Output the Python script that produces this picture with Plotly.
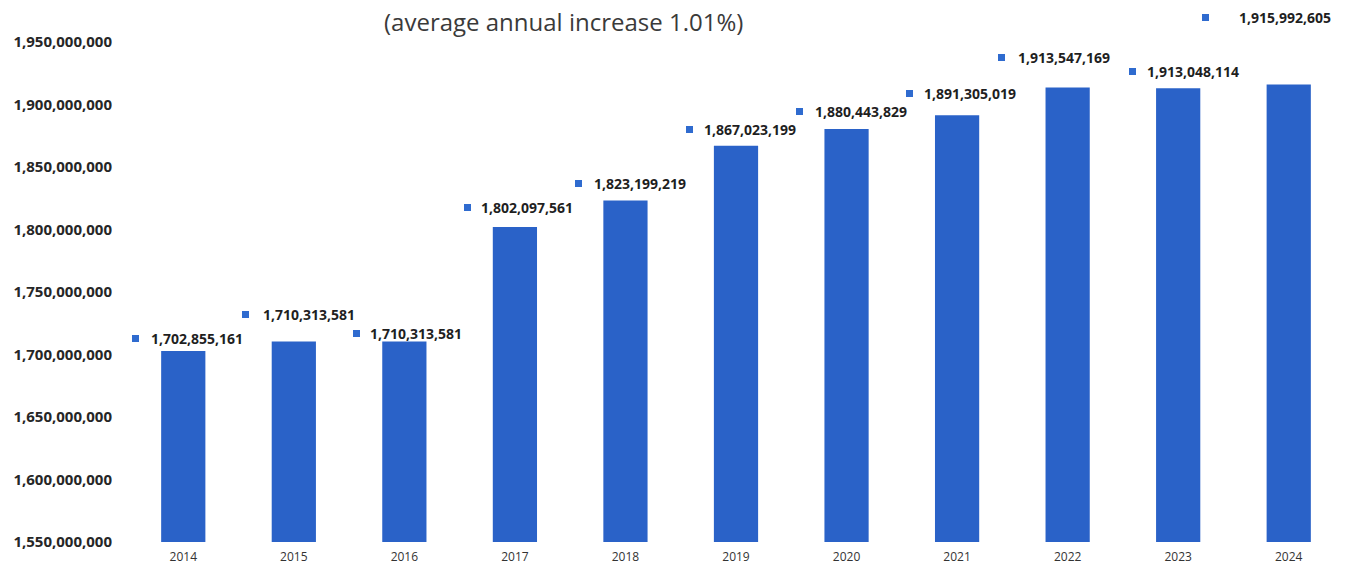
import plotly.graph_objects as go

# Yearly totals
years = [2014, 2015, 2016, 2017, 2018, 2019, 2020, 2021, 2022, 2023, 2024]
values = [1702855161, 1710313581, 1710313581, 1802097561, 1823199219,
          1867023199, 1880443829, 1891305019, 1913547169, 1913048114, 1915992605]

y_ticks = [1550000000, 1600000000, 1650000000, 1700000000, 1750000000,
           1800000000, 1850000000, 1900000000, 1950000000]

subtitle = "(average annual increase 1.01%)"

# Hand-placed data label offsets in pixels, relative to each bar's top centre
label_dx = [-34, -33, -36, -36, -33, -34, -34, -35, -52, -33, -52]
label_dy = [-12, -27, -8, -19, -17, -16, -17, -22, -30, -17, -67]
key_dx = [-48, -48, -48, -47, -47, -47, -47, -48, -66, -46, -83]

BAR_BLUE = "#2a62c8"
KEY_BLUE = "#2f6bcf"
TEXT_DARK = "#1f1f1f"

fig = go.Figure()
fig.add_trace(go.Bar(
    x=years,
    y=values,
    width=0.4,
    marker=dict(color=BAR_BLUE, line=dict(width=0)),
    hoverinfo="x+y",
    showlegend=False,
))

annotations = []
for yr, v, dx, dy, kx in zip(years, values, label_dx, label_dy, key_dx):
    # value label
    annotations.append(dict(
        x=yr, y=v, xref="x", yref="y",
        text=f"{v:,}",
        showarrow=False,
        xanchor="left", yanchor="middle",
        xshift=dx, yshift=-dy,
        font=dict(family="Open Sans", size=14, color=TEXT_DARK, weight="bold"),
    ))
    # small legend-key square in front of the label
    annotations.append(dict(
        x=yr, y=v, xref="x", yref="y",
        text=" ",
        showarrow=False,
        xanchor="center", yanchor="middle",
        xshift=kx, yshift=-dy,
        width=7, height=7, borderpad=0, borderwidth=0,
        bgcolor=KEY_BLUE,
        font=dict(size=1),
    ))

annotations.append(dict(
    x=(563 - 128) / 1216, y=1, xref="paper", yref="paper",
    text=subtitle, showarrow=False,
    xanchor="center", yanchor="middle", yshift=21,
    font=dict(family="Open Sans", size=24, color="#3a3a3a"),
))

fig.update_layout(
    width=1345, height=572,
    margin=dict(l=128, r=1, t=42, b=30),
    paper_bgcolor="white",
    plot_bgcolor="white",
    annotations=annotations,
    xaxis=dict(
        range=[2013.5, 2024.5],
        tickmode="array",
        tickvals=years,
        ticktext=[str(y) for y in years],
        showgrid=False, zeroline=False, showline=False,
        ticks="", ticklabelstandoff=6,
        tickfont=dict(family="Open Sans", size=12, color="#333333"),
        fixedrange=True,
    ),
    yaxis=dict(
        range=[1550000000, 1950000000],
        tickmode="array",
        tickvals=y_ticks,
        ticktext=[f"{t:,}" for t in y_ticks],
        showgrid=False, zeroline=False, showline=False,
        ticks="", ticklabelstandoff=15,
        tickfont=dict(family="Open Sans", size=15, color="#262626", weight="bold"),
        fixedrange=True,
    ),
)

fig.write_html("out.html")
